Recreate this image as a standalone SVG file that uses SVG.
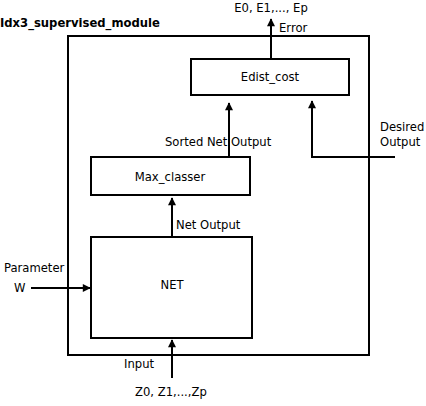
<svg xmlns="http://www.w3.org/2000/svg" width="426" height="406" viewBox="0 0 426 406">
<style>
text{font-family:"DejaVu Sans",sans-serif;font-size:11.6px;fill:#000}
.b{fill:#fff;stroke:#000;stroke-width:2}
.c{fill:none;stroke:#000;stroke-width:2}
.m{text-anchor:middle}
</style>
<defs>
<marker id="a" viewBox="0 0 10 10" refX="9" refY="5" markerWidth="5" markerHeight="4" orient="auto" markerUnits="strokeWidth">
<path d="M0,0L10,5L0,10z" fill="#000"/>
</marker>
</defs>
<rect width="426" height="406" fill="#fff"/>
<text x="0" y="27" style="font-weight:bold">Idx3_supervised_module</text>
<g id="module"><rect class="b" x="68" y="36" width="301" height="319"/></g>
<g id="edist"><rect class="b" x="191" y="59" width="158" height="36"/><text class="m" x="270" y="81">Edist_cost</text></g>
<g id="max"><rect class="b" x="91" y="157" width="159" height="38"/><text class="m" x="170" y="181">Max_classer</text></g>
<g id="net"><rect class="b" x="91" y="237" width="161" height="101"/><text class="m" x="172" y="289">NET</text></g>
<g id="connectors">
<path class="c" d="M271,59V19" marker-end="url(#a)"/>
<path class="c" d="M229,157V103" marker-end="url(#a)"/>
<path class="c" d="M395,157H312V101" marker-end="url(#a)"/>
<path class="c" d="M172,237V198" marker-end="url(#a)"/>
<path class="c" d="M172,378V340" marker-end="url(#a)"/>
<path class="c" d="M31,288H90" marker-end="url(#a)"/>
</g>
<text class="m" x="271" y="12">E0, E1,..., Ep</text>
<text x="279" y="32">Error</text>
<text x="165" y="146">Sorted Net Output</text>
<text x="380" y="131">Desired</text>
<text x="380" y="146">Output</text>
<text x="176" y="229">Net Output</text>
<text x="4" y="272">Parameter</text>
<text x="14" y="292">W</text>
<text x="124" y="368">Input</text>
<text x="135" y="396">Z0, Z1,...,Zp</text>
</svg>
